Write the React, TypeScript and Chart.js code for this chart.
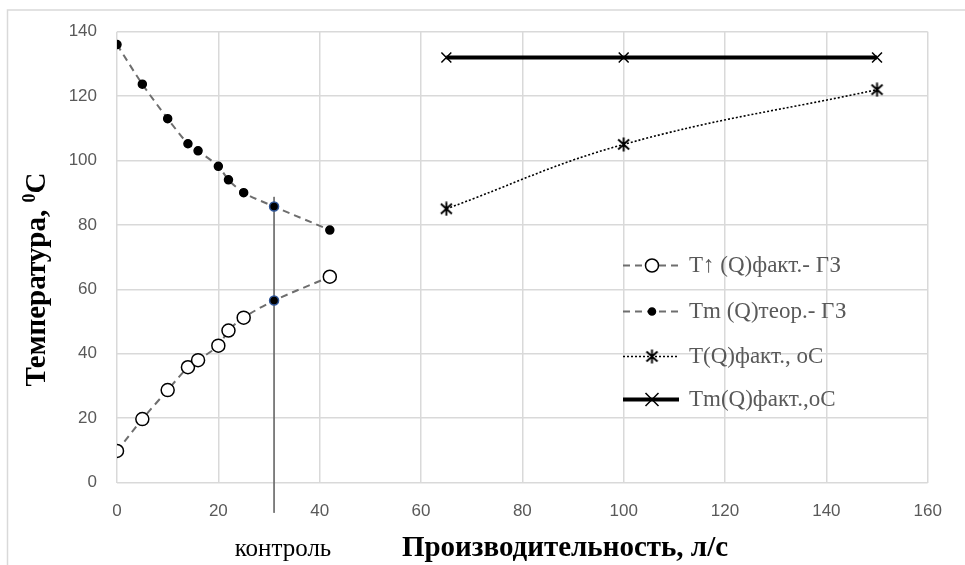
import React, { useEffect, useRef } from "react";
import { Chart, registerables } from "chart.js";

Chart.register(...registerables);

// ---- data ----
const qExp = [0, 5, 10, 14, 16, 20, 22, 25, 31, 42];
const tUpFact = [9.8, 19.7, 28.7, 35.8, 38, 42.5, 47.2, 51.2, 56.5, 63.9];
const tmTheor = [136, 123.7, 113, 105.2, 103, 98.2, 94, 90, 85.7, 78.4];
const qPlant = [65, 100, 150];
const tFactPlant = [85, 105, 122];
const tmFactPlant = [132, 132, 132];
const controlQ = 31;
const controlSpan = [88.7, -9.4];
const controlIndex = 8;
const xMin = 0;
const xMax = 160;
const xStep = 20;
const yMin = 0;
const yMax = 140;
const yStep = 20;
const legendLabels = ["T↑ (Q)факт.- ГЗ", "Tm (Q)теор.- ГЗ", "T(Q)факт., oC", "Tm(Q)факт.,oC"];
const xTitle = "Производительность, л/с";
const controlLabel = "контроль";
const yTitleMain = "Температура, ";
const yTitleSup = "0";
const yTitleEnd = "C";

const W = 965;
const H = 565;
const GRID = "#d9d9d9";
const TXT = "#595959";
const DASH_GRAY = "#6e6e6e";
const BLUE = "#2f5597";

function makeStar(): HTMLCanvasElement {
  const c = document.createElement("canvas");
  c.width = 15;
  c.height = 15;
  const g = c.getContext("2d")!;
  g.strokeStyle = "#000";
  g.lineWidth = 1.9;
  g.beginPath();
  g.moveTo(2, 2.5); g.lineTo(13, 12.5);
  g.moveTo(13, 2.5); g.lineTo(2, 12.5);
  g.moveTo(7.5, 0.5); g.lineTo(7.5, 14.5);
  g.stroke();
  return c;
}

function drawCircle(ctx: CanvasRenderingContext2D, x: number, y: number, r: number, fill: string) {
  ctx.beginPath();
  ctx.arc(x, y, r, 0, Math.PI * 2);
  ctx.fillStyle = fill;
  ctx.fill();
  ctx.strokeStyle = "#000";
  ctx.lineWidth = 1.5;
  ctx.stroke();
}

function drawX(ctx: CanvasRenderingContext2D, x: number, y: number, r: number) {
  ctx.beginPath();
  ctx.moveTo(x - r, y - r); ctx.lineTo(x + r, y + r);
  ctx.moveTo(x + r, y - r); ctx.lineTo(x - r, y + r);
  ctx.strokeStyle = "#000";
  ctx.lineWidth = 1.5;
  ctx.setLineDash([]);
  ctx.stroke();
}

export default function App() {
  const ref = useRef<HTMLCanvasElement | null>(null);

  useEffect(() => {
    if (!ref.current) return;
    const star = makeStar();

    const decor = {
      id: "decor",
      beforeDraw(chart: any) {
        const ctx = chart.ctx as CanvasRenderingContext2D;
        ctx.save();
        ctx.strokeStyle = GRID;
        ctx.lineWidth = 1.5;
        ctx.beginPath();
        ctx.moveTo(7.5, chart.height);
        ctx.lineTo(7.5, 10);
        ctx.lineTo(chart.width, 10);
        ctx.stroke();
        ctx.restore();
      },
      afterDraw(chart: any) {
        const ctx = chart.ctx as CanvasRenderingContext2D;
        ctx.save();
        // x title + control label
        ctx.fillStyle = "#000";
        ctx.textBaseline = "middle";
        ctx.textAlign = "center";
        ctx.font = "bold 29px 'Liberation Serif'";
        ctx.fillText(xTitle, 565, 549);
        ctx.font = "25px 'Liberation Serif'";
        ctx.fillText(controlLabel, 283, 549);

        // y title rotated
        ctx.save();
        ctx.translate(38, 279.5);
        ctx.rotate(-Math.PI / 2);
        ctx.textAlign = "left";
        ctx.textBaseline = "middle";
        const fMain = "bold 29px 'Liberation Serif'";
        const fSup = "bold 18px 'Liberation Serif'";
        ctx.font = fMain;
        const w1 = ctx.measureText(yTitleMain).width;
        const w3 = ctx.measureText(yTitleEnd).width;
        ctx.font = fSup;
        const w2 = ctx.measureText(yTitleSup).width;
        const total = w1 + w2 + w3;
        const x0 = -total / 2;
        ctx.font = fMain;
        ctx.fillText(yTitleMain, x0, 0);
        ctx.font = fSup;
        ctx.fillText(yTitleSup, x0 + w1, -8);
        ctx.font = fMain;
        ctx.fillText(yTitleEnd, x0 + w1 + w2, 0);
        ctx.restore();

        // legend
        const ys = [265.5, 311.5, 356.5, 399.5];
        const lx0 = 623;
        const lx1 = 679;
        const mx = 652;
        const tx = 689;
        ys.forEach((y, i) => {
          ctx.save();
          ctx.beginPath();
          ctx.moveTo(lx0, y);
          ctx.lineTo(lx1, y);
          if (i < 2) {
            ctx.strokeStyle = DASH_GRAY;
            ctx.lineWidth = 2;
            ctx.setLineDash([7, 5]);
          } else if (i === 2) {
            ctx.strokeStyle = "#000";
            ctx.lineWidth = 1.5;
            ctx.setLineDash([2, 2]);
          } else {
            ctx.strokeStyle = "#000";
            ctx.lineWidth = 4;
            ctx.setLineDash([]);
          }
          ctx.stroke();
          ctx.setLineDash([]);
          if (i === 0) drawCircle(ctx, mx, y, 6.5, "#fff");
          else if (i === 1) drawCircle(ctx, mx, y, 3.5, "#000");
          else if (i === 2) ctx.drawImage(star, mx - 7.5, y - 7.5);
          else drawX(ctx, mx, y, 6.5);
          ctx.restore();
          ctx.fillStyle = TXT;
          ctx.font = "23px 'Liberation Serif'";
          ctx.textAlign = "left";
          ctx.textBaseline = "middle";
          ctx.fillText(legendLabels[i], tx, y);
        });
        ctx.restore();
      },
    };

    const upBg = qExp.map((_, i) => (i === controlIndex ? "#000" : "#fff"));
    const upBorder = qExp.map((_, i) => (i === controlIndex ? BLUE : "#000"));
    const upRadius = qExp.map((_, i) => (i === controlIndex ? 4.5 : 6.5));
    const thBorder = qExp.map((_, i) => (i === controlIndex ? BLUE : "#000"));
    const thRadius = qExp.map((_, i) => (i === controlIndex ? 4.5 : 4));

    const chart = new Chart(ref.current, {
      type: "line",
      data: {
        datasets: [
          {
            label: legendLabels[0],
            data: qExp.map((q, i) => ({ x: q, y: tUpFact[i] })),
            borderColor: DASH_GRAY,
            borderWidth: 2,
            borderDash: [7, 5],
            tension: 0.3,
            pointBackgroundColor: upBg,
            pointBorderColor: upBorder,
            pointBorderWidth: 1.5,
            pointRadius: upRadius,
          },
          {
            label: legendLabels[1],
            data: qExp.map((q, i) => ({ x: q, y: tmTheor[i] })),
            borderColor: DASH_GRAY,
            borderWidth: 2,
            borderDash: [7, 5],
            tension: 0.3,
            pointBackgroundColor: "#000",
            pointBorderColor: thBorder,
            pointBorderWidth: 1.5,
            pointRadius: thRadius,
          },
          {
            label: legendLabels[2],
            data: qPlant.map((q, i) => ({ x: q, y: tFactPlant[i] })),
            borderColor: "#000",
            borderWidth: 1.6,
            borderDash: [2, 2],
            tension: 0.4,
            pointStyle: star as any,
            pointRadius: 7,
          },
          {
            label: legendLabels[3],
            data: qPlant.map((q, i) => ({ x: q, y: tmFactPlant[i] })),
            borderColor: "#000",
            borderWidth: 4,
            tension: 0,
            pointStyle: "crossRot",
            pointRadius: 7,
            pointBorderColor: "#000",
            pointBorderWidth: 1.5,
          },
          {
            label: "control",
            data: controlSpan.map((v) => ({ x: controlQ, y: v })),
            borderColor: "#707070",
            borderWidth: 1,
            pointRadius: 0,
            clip: false as any,
          },
        ],
      },
      options: {
        responsive: false,
        animation: false,
        layout: { padding: { top: 31.7, right: 37.3, left: 0, bottom: 0 } },
        plugins: {
          legend: { display: false },
          tooltip: { enabled: false },
        },
        scales: {
          x: {
            type: "linear",
            min: xMin,
            max: xMax,
            ticks: {
              stepSize: xStep,
              padding: 19,
              color: TXT,
              font: { family: "'Liberation Sans'", size: 17 },
              maxRotation: 0,
            },
            grid: { color: GRID, lineWidth: 1.5, drawTicks: false },
            border: { display: false },
            afterFit: (s: any) => {
              s.height = 82.5;
            },
          },
          y: {
            min: yMin,
            max: yMax,
            ticks: {
              stepSize: yStep,
              padding: 20,
              color: TXT,
              font: { family: "'Liberation Sans'", size: 17 },
            },
            grid: { color: GRID, lineWidth: 1.5, drawTicks: false },
            border: { display: false },
            afterFit: (s: any) => {
              s.width = 117;
            },
          },
        },
      },
      plugins: [decor],
    });
    return () => chart.destroy();
  }, []);

  return (
    <div style={{ position: "fixed", left: 0, top: 0, width: W, height: H, background: "#fff" }}>
      <canvas ref={ref} width={W} height={H} style={{ display: "block", width: W, height: H }} />
    </div>
  );
}
